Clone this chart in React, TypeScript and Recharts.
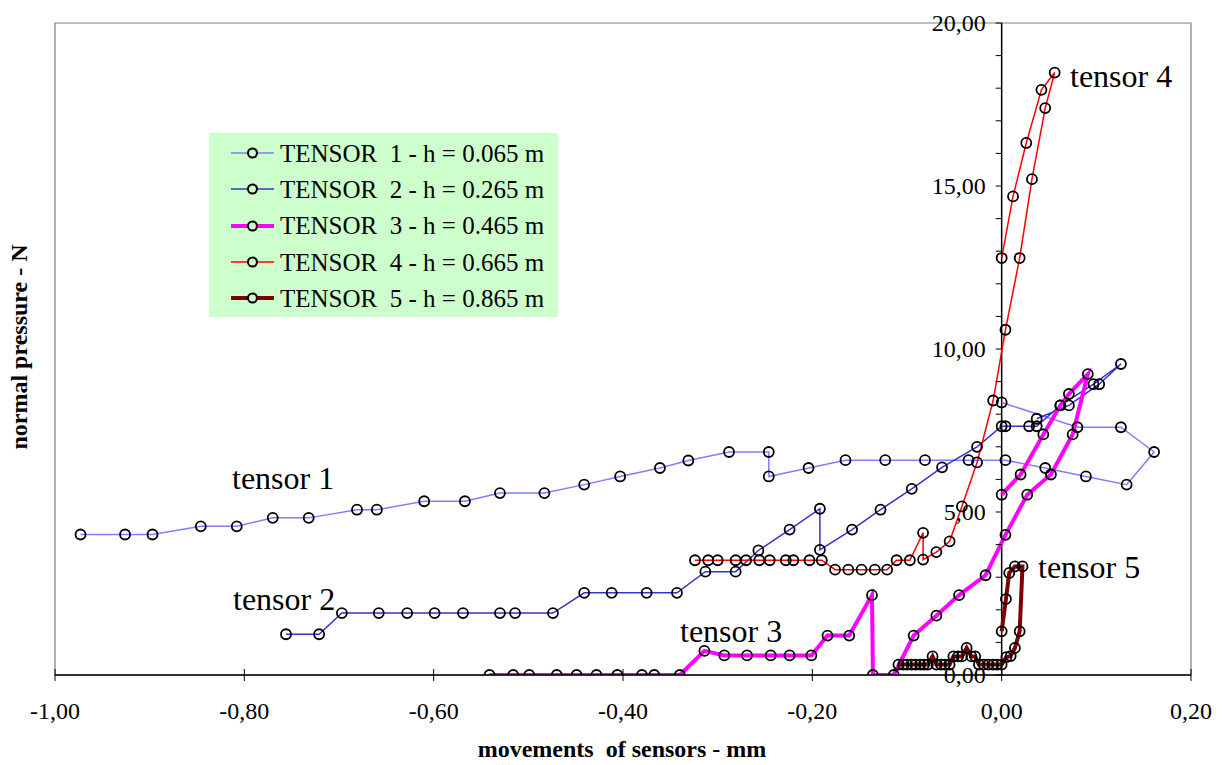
import { LineChart, Line, XAxis, YAxis, ReferenceLine, ReferenceArea } from 'recharts';

// tensor 1 (h = 0.065 m)
const t1X = [-0.973, -0.926, -0.897, -0.846, -0.808, -0.77, -0.732, -0.681, -0.66, -0.61, -0.567, -0.53, -0.483, -0.441, -0.403, -0.361, -0.331, -0.288, -0.246, -0.246, -0.204, -0.165, -0.123, -0.081, -0.035, 0.004, 0.046, 0.089, 0.132, 0.161, 0.126, 0.08, 0.0];
const t1Y = [4.31, 4.31, 4.31, 4.56, 4.56, 4.82, 4.82, 5.07, 5.07, 5.33, 5.33, 5.58, 5.58, 5.84, 6.09, 6.35, 6.58, 6.84, 6.84, 6.09, 6.35, 6.59, 6.59, 6.59, 6.59, 6.59, 6.35, 6.09, 5.84, 6.84, 7.6, 7.6, 8.36];

// tensor 2 (h = 0.265 m)
const t2X = [-0.756, -0.721, -0.697, -0.658, -0.628, -0.599, -0.569, -0.53, -0.514, -0.474, -0.441, -0.412, -0.375, -0.343, -0.313, -0.281, -0.257, -0.224, -0.192, -0.192, -0.158, -0.128, -0.095, -0.063, -0.026, 0.0, 0.004, 0.029, 0.037, 0.062, 0.097, 0.126, 0.103, 0.071, 0.037];
const t2Y = [1.25, 1.25, 1.9, 1.9, 1.9, 1.9, 1.9, 1.9, 1.9, 1.9, 2.52, 2.52, 2.52, 2.52, 3.17, 3.17, 3.82, 4.46, 5.1, 3.84, 4.46, 5.07, 5.71, 6.37, 7.0, 7.63, 7.63, 7.63, 7.63, 8.27, 8.92, 9.54, 8.92, 8.27, 7.86];

// tensor 3 (h = 0.465 m)
const t3X = [-0.541, -0.516, -0.499, -0.47, -0.449, -0.428, -0.406, -0.38, -0.367, -0.34, -0.314, -0.293, -0.269, -0.244, -0.224, -0.201, -0.184, -0.161, -0.137, -0.136, -0.114, -0.093, -0.069, -0.045, -0.017, 0.004, 0.027, 0.052, 0.075, 0.091, 0.071, 0.062, 0.044, 0.02, 0.0];
const t3Y = [0, 0, 0, 0, 0, 0, 0, 0, 0, 0, 0.74, 0.6, 0.6, 0.6, 0.6, 0.6, 1.21, 1.21, 2.45, 0, 0, 1.21, 1.82, 2.45, 3.06, 4.3, 5.53, 6.15, 7.38, 9.23, 8.62, 8.27, 7.38, 6.15, 5.53];

// tensor 4 (h = 0.665 m)
const t4X = [-0.324, -0.31, -0.3, -0.281, -0.27, -0.256, -0.245, -0.228, -0.22, -0.203, -0.19, -0.176, -0.162, -0.148, -0.134, -0.121, -0.111, -0.097, -0.083, -0.083, -0.069, -0.055, -0.042, -0.026, -0.009, 0.004, 0.019, 0.032, 0.046, 0.056, 0.042, 0.026, 0.012, 0.0];
const t4Y = [3.52, 3.52, 3.52, 3.52, 3.52, 3.52, 3.52, 3.52, 3.52, 3.52, 3.52, 3.23, 3.23, 3.23, 3.23, 3.23, 3.52, 3.52, 4.36, 3.54, 3.77, 4.1, 5.17, 6.52, 8.42, 10.59, 12.79, 15.21, 17.39, 18.48, 17.95, 16.32, 14.68, 12.79];

// tensor 5 (h = 0.865 m)
const t5X = [-0.109, -0.104, -0.1, -0.095, -0.091, -0.086, -0.082, -0.078, -0.073, -0.069, -0.064, -0.06, -0.055, -0.051, -0.046, -0.042, -0.037, -0.032, -0.028, -0.024, -0.019, -0.014, -0.009, -0.005, 0.0, 0.005, 0.0095, 0.014, 0.019, 0.022, 0.014, 0.008, 0.0045, 0.0];
const t5Y = [0.32, 0.32, 0.32, 0.32, 0.32, 0.32, 0.32, 0.32, 0.57, 0.32, 0.32, 0.32, 0.32, 0.57, 0.57, 0.57, 0.83, 0.57, 0.57, 0.32, 0.32, 0.32, 0.32, 0.32, 0.32, 0.55, 0.58, 0.83, 1.34, 3.33, 3.33, 3.13, 2.33, 1.34];

const xTicks = [-1, -0.8, -0.6, -0.4, -0.2, 0, 0.2];
const yTicks = [0, 1, 2, 3, 4, 5, 6, 7, 8, 9, 10, 11, 12, 13, 14, 15, 16, 17, 18, 19, 20];

const zip = (xs: number[], ys: number[]) => xs.map((x, i) => ({ x, y: ys[i] }));

const series = [
  { name: 'TENSOR  1 - h = 0.065 m', data: zip(t1X, t1Y), color: '#7f7fff', width: 1.5 },
  { name: 'TENSOR  2 - h = 0.265 m', data: zip(t2X, t2Y), color: '#3333cc', width: 1.5 },
  { name: 'TENSOR  3 - h = 0.465 m', data: zip(t3X, t3Y), color: '#ff00ff', width: 4 },
  { name: 'TENSOR  4 - h = 0.665 m', data: zip(t4X, t4Y), color: '#ff0000', width: 1.5 },
  { name: 'TENSOR  5 - h = 0.865 m', data: zip(t5X, t5Y), color: '#800000', width: 4 },
];

const FONT = '"Liberation Serif", "Times New Roman", serif';
const W = 1222;
const H = 765;
const margin = { top: 23, right: 31, bottom: 30, left: 0 };
const Y_AXIS_W = 55;
const X_MIN = -1;
const X_MAX = 0.2;
const plotW = W - margin.left - margin.right - Y_AXIS_W;
// the value axis crosses at x = 0
const zeroShift = (plotW * (0 - X_MIN)) / (X_MAX - X_MIN);

const fmt = (v: number) => v.toFixed(2).replace('.', ',');

function XTick(props: any) {
  const { x, y, payload } = props;
  return (
    <g>
      <line x1={x} x2={x} y1={y - 6} y2={y + 6} stroke="#000" />
      <text x={x} y={y + 44} textAnchor="middle" fontSize={24} fontFamily={FONT} fill="#000">
        {fmt(payload.value)}
      </text>
    </g>
  );
}

function YTick(props: any) {
  const { x, y, payload } = props;
  const ax = x + zeroShift;
  const v = payload.value;
  return (
    <g>
      <line x1={ax - 6} x2={ax} y1={y} y2={y} stroke="#000" />
      {v % 5 === 0 && (
        <text x={ax - 16} y={y + 8} textAnchor="end" fontSize={24} fontFamily={FONT} fill="#000">
          {fmt(v)}
        </text>
      )}
    </g>
  );
}

function LegendBox() {
  return (
    <div
      style={{
        position: 'absolute',
        left: 209,
        top: 133,
        width: 349,
        height: 184,
        background: '#ccffcc',
        boxSizing: 'border-box',
        paddingTop: 2,
        fontFamily: FONT,
        fontSize: 25,
      }}
    >
      {series.map((s) => (
        <div key={s.name} style={{ display: 'flex', alignItems: 'center', height: 36.3 }}>
          <svg width={49} height={20} style={{ marginLeft: 22, flex: 'none' }}>
            <line x1={0} x2={17} y1={10} y2={10} stroke={s.color} strokeWidth={s.width} />
            <line x1={26} x2={43} y1={10} y2={10} stroke={s.color} strokeWidth={s.width} />
            <circle cx={21.5} cy={10} r={4.5} stroke="#000" strokeWidth={2} fill="none" />
          </svg>
          <span style={{ whiteSpace: 'pre', lineHeight: 1 }}>{s.name}</span>
        </div>
      ))}
    </div>
  );
}

const labelStyle = { fontSize: 32, fontFamily: FONT, fill: '#000' };

export default function App() {
  return (
    <div style={{ position: 'relative', width: W, height: H, margin: -8 }}>
      <LineChart width={W} height={H} margin={margin} style={{ fontFamily: FONT }}>
        <ReferenceArea x1={-1} x2={0.2} y1={0} y2={20} fill="none" stroke="#808080" strokeWidth={1.2} />
        <XAxis
          type="number"
          dataKey="x"
          domain={[X_MIN, X_MAX]}
          ticks={xTicks}
          interval={0}
          allowDataOverflow
          height={60}
          axisLine={{ stroke: '#000', strokeWidth: 1.3 }}
          tickLine={false}
          tickSize={0}
          tickMargin={0}
          tick={<XTick />}
        />
        <YAxis
          type="number"
          dataKey="y"
          domain={[0, 20]}
          ticks={yTicks}
          interval={0}
          allowDataOverflow
          width={Y_AXIS_W}
          axisLine={false}
          tickLine={false}
          tickSize={0}
          tickMargin={0}
          tick={<YTick />}
        />
        <ReferenceLine x={0} stroke="#000" strokeWidth={1.5} />
        {series.map((s) => (
          <Line
            key={s.name}
            data={s.data}
            dataKey="y"
            name={s.name}
            type="linear"
            stroke={s.color}
            strokeWidth={s.width}
            dot={{ r: 5, stroke: '#000', strokeWidth: 1.8, fill: 'none' }}
            activeDot={false}
            isAnimationActive={false}
          />
        ))}
        <text x={232} y={489} style={labelStyle}>tensor 1</text>
        <text x={233} y={610} style={labelStyle}>tensor 2</text>
        <text x={680} y={642} style={labelStyle}>tensor 3</text>
        <text x={1070} y={87} style={labelStyle}>tensor 4</text>
        <text x={1038} y={578} style={labelStyle}>tensor 5</text>
        <text x={622} y={757} textAnchor="middle" fontWeight="bold" fontSize={24} fontFamily={FONT} style={{ whiteSpace: 'pre' }}>
          movements  of sensors - mm
        </text>
        <text
          x={27}
          y={347}
          textAnchor="middle"
          fontWeight="bold"
          fontSize={24}
          fontFamily={FONT}
          transform="rotate(-90, 27, 347)"
        >
          normal pressure - N
        </text>
      </LineChart>
      <LegendBox />
    </div>
  );
}
